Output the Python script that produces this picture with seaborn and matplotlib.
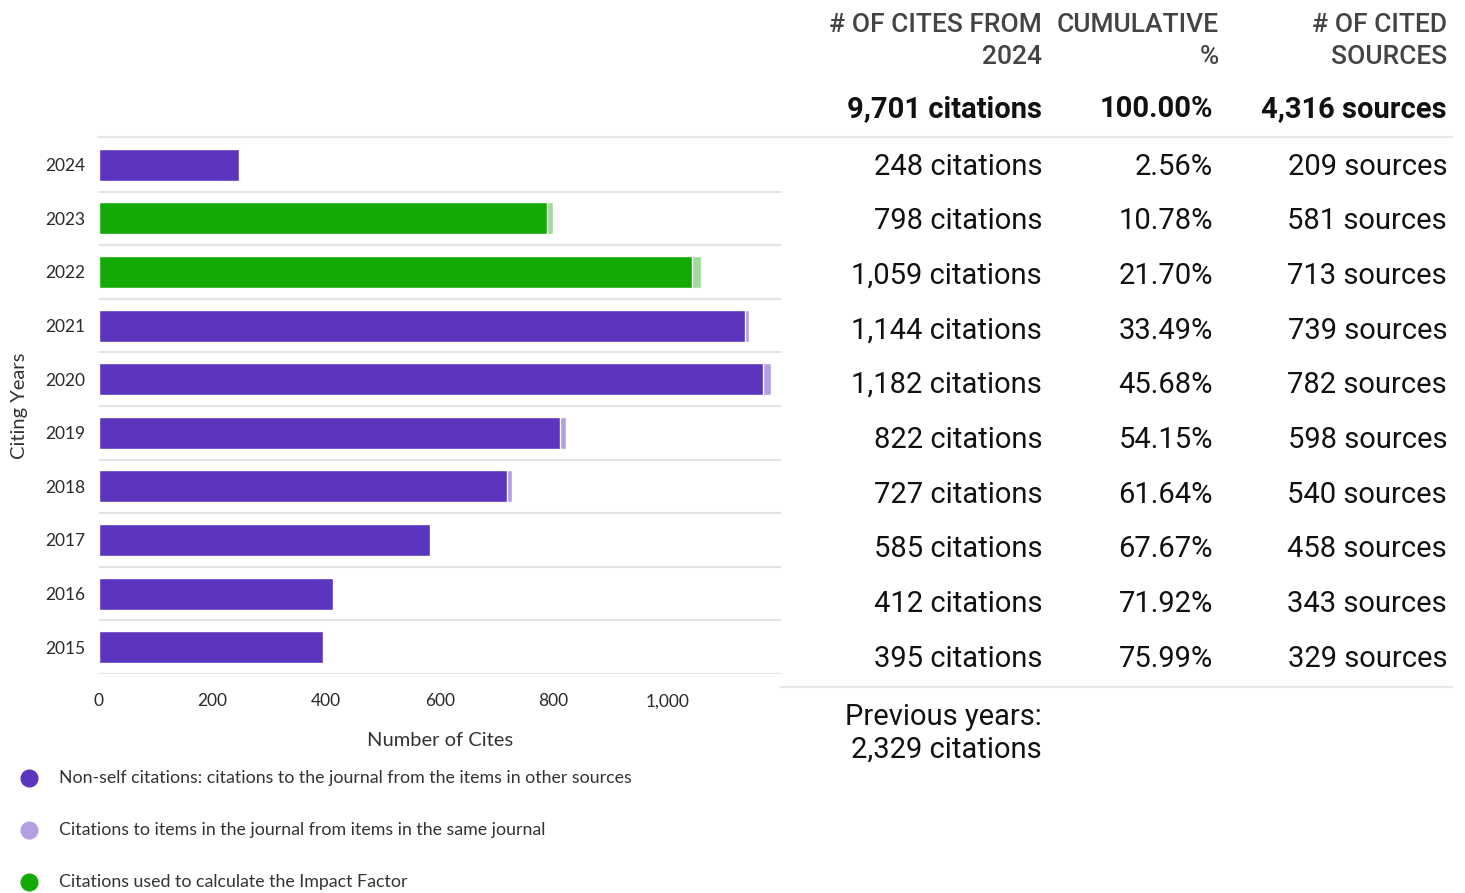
import pandas as pd
import numpy as np
import seaborn as sns
import matplotlib.pyplot as plt
from matplotlib.lines import Line2D

years = ['2024', '2023', '2022', '2021', '2020', '2019', '2018', '2017', '2016', '2015']
total_cites = [248, 798, 1059, 1144, 1182, 822, 727, 585, 412, 395]
self_cites = [1, 9, 15, 7, 13, 10, 9, 3, 1, 1]
cumulative = ['2.56%', '10.78%', '21.70%', '33.49%', '45.68%', '54.15%', '61.64%', '67.67%', '71.92%', '75.99%']
sources = [209, 581, 713, 739, 782, 598, 540, 458, 343, 329]
if_years = ['2023', '2022']

total_all = '9,701 citations'
total_pct = '100.00%'
total_sources = '4,316 sources'
previous = '2,329 citations'

legend_labels = ['Non-self citations: citations to the journal from the items in other sources',
                 'Citations to items in the journal from items in the same journal',
                 'Citations used to calculate the Impact Factor']

purple = '#5c35be'
light_purple = '#b3a0e2'
green = '#14aa05'
light_green = '#a2d99c'

df = pd.DataFrame({'year': years, 'total': total_cites, 'self': self_cites})
df['nonself'] = df['total'] - df['self']

main_pal = {y: (green if y in if_years else purple) for y in years}
self_pal = {y: (light_green if y in if_years else light_purple) for y in years}

sns.set_style('white')
plt.rcParams['font.family'] = ['Lato', 'DejaVu Sans']

W, H = 1465, 893
fig = plt.figure(figsize=(W / 100, H / 100), dpi=100)


def fx(px):
    return px / W


def fy(py):
    return 1 - py / H


ax = fig.add_axes([fx(99), fy(674), fx(781) - fx(99), fy(138) - fy(674)])

sns.barplot(data=df, x='total', y='year', hue='year', palette=self_pal, order=years,
            orient='h', width=0.6, legend=False, ax=ax, saturation=1)
sns.barplot(data=df, x='nonself', y='year', hue='year', palette=main_pal, order=years,
            orient='h', width=0.6, legend=False, ax=ax, saturation=1)

ax.set_xlim(0, 1200)
ax.set_ylim(len(years) - 0.5, -0.5)
ax.set_xticks([0, 200, 400, 600, 800, 1000])
ax.set_xticklabels(['0', '200', '400', '600', '800', '1,000'])
for i in range(len(years)):
    ax.axhline(i + 0.5, color='#e3e3e3', lw=1.5, zorder=0)
for s in ax.spines.values():
    s.set_visible(False)
ax.tick_params(axis='both', length=0, labelsize=12.5, colors='#2a2a2a')
ax.tick_params(axis='y', pad=10)
ax.tick_params(axis='x', pad=14)
ax.set_xlabel('Number of Cites', fontsize=14.5, color='#333333', labelpad=16)
ax.set_ylabel('Citing Years', fontsize=14.5, color='#333333', labelpad=12)

# table lines
fig.add_artist(Line2D([fx(98), fx(1452)], [fy(137), fy(137)], color='#e6e6e6', lw=1.5))
fig.add_artist(Line2D([fx(781), fx(1452)], [fy(687), fy(687)], color='#e6e6e6', lw=1.5))

tfont = ['Roboto', 'DejaVu Sans']
hcol = '#444444'
for xx, lab in [(1042, '# OF CITES FROM\n2024'), (1219, 'CUMULATIVE\n%'), (1447, '# OF CITED\nSOURCES')]:
    fig.text(fx(xx), fy(41), lab, ha='right', va='center', fontsize=19, family=tfont,
             fontweight='medium', color=hcol, linespacing=1.4, multialignment='right')

for xx, lab in [(1042, total_all), (1213, total_pct), (1447, total_sources)]:
    fig.text(fx(xx), fy(109), lab, ha='right', va='center', fontsize=21,
             family=tfont, fontweight='bold', color='#111111')

row_y = [167, 221, 276, 331, 385, 440, 495, 549, 604, 659]
for yy, t, c, s in zip(row_y, total_cites, cumulative, sources):
    fig.text(fx(1042), fy(yy), f'{t:,} citations', ha='right', va='center', fontsize=21,
             family=tfont, color='#111111')
    fig.text(fx(1213), fy(yy), c, ha='right', va='center', fontsize=21,
             family=tfont, color='#111111')
    fig.text(fx(1447), fy(yy), f'{s:,} sources', ha='right', va='center', fontsize=21,
             family=tfont, color='#111111')

fig.text(fx(1042), fy(733), 'Previous years:\n' + previous, ha='right', va='center',
         fontsize=21, family=tfont, color='#111111', linespacing=1.2, multialignment='right')

# legend
for yy, lab, col in zip([778, 830, 882], legend_labels, [purple, light_purple, green]):
    fig.add_artist(Line2D([fx(29)], [fy(yy)], marker='o', markersize=12, color=col, lw=0))
    fig.text(fx(59), fy(yy), lab, ha='left', va='center', fontsize=12.75, color='#333333')

fig.savefig('out.png', dpi=100)
